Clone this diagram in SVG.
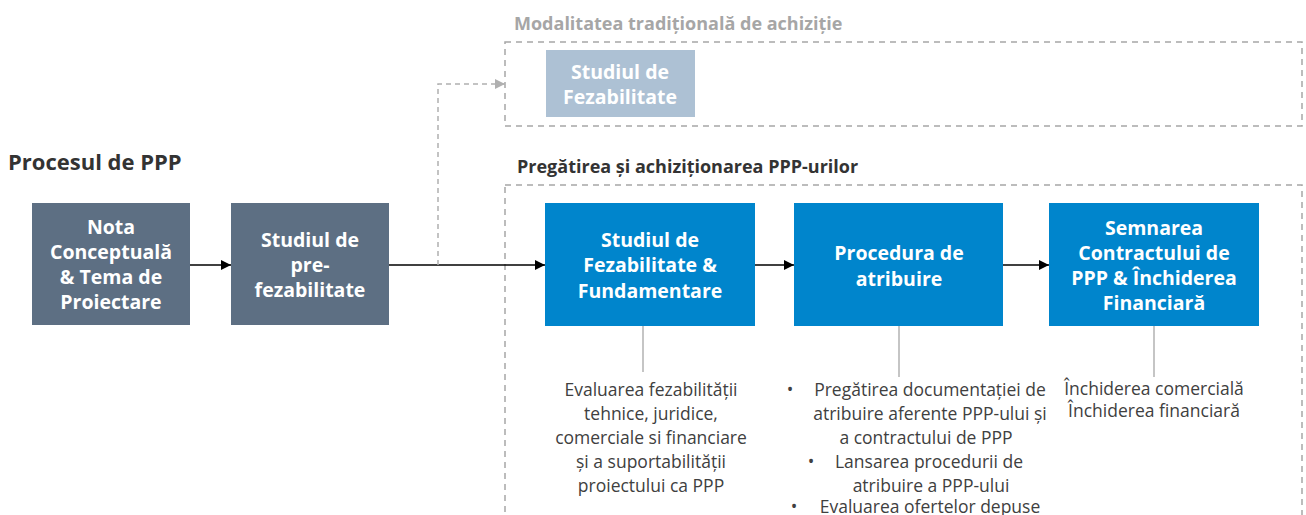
<svg xmlns="http://www.w3.org/2000/svg" width="1306" height="515" viewBox="0 0 1306 515">
<defs>
<style>
.t{font-family:"Open Sans","Noto Sans","Liberation Sans",sans-serif}
.nt{font-family:"Open Sans","Liberation Sans",sans-serif;font-weight:bold;font-size:19.5px;fill:#fff;text-anchor:middle}
.d{font-family:"Open Sans","Liberation Sans",sans-serif;font-size:17.5px;fill:#404040;text-anchor:middle}
.dark{fill:#5d6f83}
.blue{fill:#0085cc}
.dash{fill:none;stroke:#a6a6a6;stroke-width:1.5;stroke-dasharray:6 5}
.arr{stroke:#000;stroke-width:1.5;fill:none;marker-end:url(#ah)}
.vl{stroke:#a6a6a6;stroke-width:1.3}
</style>
<marker id="ah" viewBox="0 0 10 10" refX="10" refY="5" markerWidth="10" markerHeight="10" markerUnits="userSpaceOnUse" orient="auto"><path d="M0,0 L10,5 L0,10 z" fill="#000"/></marker>
<marker id="ahg" viewBox="0 0 10 10" refX="10" refY="5" markerWidth="10" markerHeight="10" markerUnits="userSpaceOnUse" orient="auto"><path d="M0,0 L10,5 L0,10 z" fill="#b0b0b0"/></marker>
</defs>
<rect width="1306" height="515" fill="#fff"/>

<g id="labels">
<text class="t" x="8" y="170" font-size="22" font-weight="bold" fill="#333">Procesul de PPP</text>
<text class="t" x="514" y="30" font-size="18" font-weight="bold" fill="#a6a6a6">Modalitatea tradițională de achiziție</text>
<text class="t" x="517" y="173" font-size="18" font-weight="bold" fill="#333">Pregătirea și achiziționarea PPP-urilor</text>
</g>

<g id="frames">
<rect class="dash" x="505" y="42" width="797" height="84"/>
<rect class="dash" x="505" y="185" width="797" height="340"/>
</g>

<g id="connectors">
<line class="arr" x1="190" y1="265" x2="231" y2="265"/>
<line class="arr" x1="389" y1="265" x2="545" y2="265"/>
<line class="arr" x1="755" y1="265" x2="794" y2="265"/>
<line class="arr" x1="1003" y1="265" x2="1049" y2="265"/>
<path d="M438,265 V84 H505" fill="none" stroke="#b0b0b0" stroke-width="1.5" stroke-dasharray="5 4" marker-end="url(#ahg)"/>
<line class="vl" x1="643" y1="326" x2="643" y2="372"/>
<line class="vl" x1="899" y1="326" x2="899" y2="377"/>
<line class="vl" x1="1154" y1="326" x2="1154" y2="377"/>
</g>

<g id="node-nota">
<rect class="dark" x="32" y="203" width="158" height="122"/>
<text class="nt"><tspan x="111" y="234">Nota</tspan><tspan x="111" y="259">Conceptuală</tspan><tspan x="111" y="284">&amp; Tema de</tspan><tspan x="111" y="309">Proiectare</tspan></text>
</g>
<g id="node-prefez">
<rect class="dark" x="231" y="203" width="158" height="122"/>
<text class="nt"><tspan x="310" y="247">Studiul de</tspan><tspan x="310" y="272">pre-</tspan><tspan x="310" y="297">fezabilitate</tspan></text>
</g>
<g id="node-trad">
<rect x="546" y="50" width="149" height="67" fill="#adc1d4"/>
<text class="nt"><tspan x="620" y="79">Studiul de</tspan><tspan x="620" y="104">Fezabilitate</tspan></text>
</g>
<g id="node-fez">
<rect class="blue" x="545" y="203" width="210" height="123"/>
<text class="nt"><tspan x="650" y="247">Studiul de</tspan><tspan x="650" y="272">Fezabilitate &amp;</tspan><tspan x="650" y="298">Fundamentare</tspan></text>
</g>
<g id="node-proc">
<rect class="blue" x="794" y="203" width="209" height="123"/>
<text class="nt"><tspan x="899" y="260">Procedura de</tspan><tspan x="899" y="286">atribuire</tspan></text>
</g>
<g id="node-semn">
<rect class="blue" x="1049" y="203" width="210" height="123"/>
<text class="nt"><tspan x="1154" y="235">Semnarea</tspan><tspan x="1154" y="260">Contractului de</tspan><tspan x="1154" y="285">PPP &amp; Închiderea</tspan><tspan x="1154" y="310">Financiară</tspan></text>
</g>

<g id="desc-fez">
<text class="d"><tspan x="651" y="396">Evaluarea fezabilității</tspan><tspan x="651" y="420">tehnice, juridice,</tspan><tspan x="651" y="444">comerciale si financiare</tspan><tspan x="651" y="468">și a suportabilității</tspan><tspan x="651" y="492">proiectului ca PPP</tspan></text>
</g>
<g id="desc-proc">
<text class="d"><tspan x="790" y="396">•</tspan><tspan x="930" y="396">Pregătirea documentației de</tspan><tspan x="930" y="420">atribuire aferente PPP-ului și</tspan><tspan x="926" y="444">a contractului de PPP</tspan><tspan x="811" y="468">•</tspan><tspan x="929" y="468">Lansarea procedurii de</tspan><tspan x="931" y="492">atribuire a PPP-ului</tspan><tspan x="794" y="513">•</tspan><tspan x="930" y="513">Evaluarea ofertelor depuse</tspan></text>
</g>
<g id="desc-semn">
<text class="d"><tspan x="1154" y="395">Închiderea comercială</tspan><tspan x="1154" y="417">Închiderea financiară</tspan></text>
</g>
</svg>
